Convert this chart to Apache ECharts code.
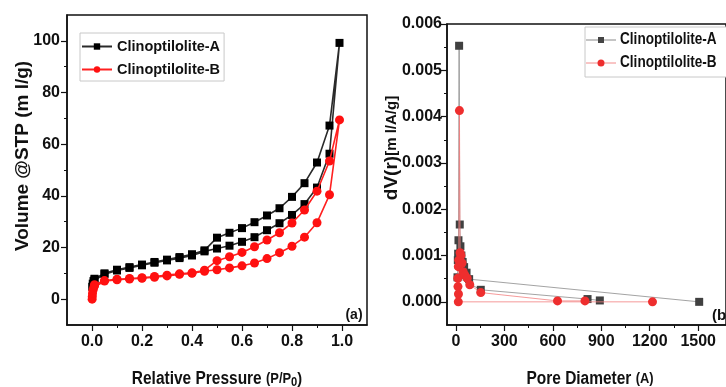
<!DOCTYPE html>
<html>
<head>
<meta charset="utf-8">
<script src="https://cdn.jsdelivr.net/npm/echarts@6/dist/echarts.min.js"></script>
<style>
  html, body { margin: 0; padding: 0; background: #fff; }
  #chart { width: 726px; height: 387px; }
</style>
</head>
<body>
<div id="chart"></div>
<script>
// ---- (a) N2 adsorption / desorption isotherms: [P/P0, volume ml/g] ----
const isoA_ads = [[0.001,4.8],[0.003,6.0],[0.006,7.0],[0.01,7.6],[0.05,9.7],[0.1,11.1],[0.15,12.1],[0.2,13.1],[0.25,14.1],[0.3,15.0],[0.35,15.9],[0.4,16.9],[0.45,18.5],[0.5,19.6],[0.55,20.7],[0.6,22.2],[0.65,24.0],[0.7,26.7],[0.75,29.4],[0.8,32.6],[0.85,36.8],[0.9,43.2],[0.95,56.3],[0.99,99.2]];
const isoA_des = [[0.95,67.2],[0.9,52.9],[0.85,44.9],[0.8,39.6],[0.75,35.2],[0.7,32.4],[0.65,29.8],[0.6,27.5],[0.55,25.7],[0.5,23.8],[0.45,18.9],[0.4,17.4],[0.35,16.3],[0.3,15.3],[0.25,14.4],[0.2,13.4],[0.15,12.4],[0.1,11.4],[0.05,10.0],[0.01,7.9]];
const isoB_ads = [[0.0005,0.0],[0.001,1.0],[0.002,2.2],[0.004,3.5],[0.007,4.5],[0.01,5.2],[0.05,7.0],[0.1,7.5],[0.15,7.8],[0.2,8.1],[0.25,8.5],[0.3,9.0],[0.35,9.6],[0.4,10.0],[0.45,10.8],[0.5,11.4],[0.55,12.1],[0.6,12.9],[0.65,14.0],[0.7,15.7],[0.75,18.0],[0.8,20.5],[0.85,24.0],[0.9,29.6],[0.95,40.4],[0.99,69.4]];
const isoB_des = [[0.95,53.5],[0.9,41.8],[0.85,34.5],[0.8,29.5],[0.75,25.7],[0.7,22.9],[0.65,20.3],[0.6,18.1],[0.55,16.4],[0.5,14.9],[0.45,11.2],[0.4,10.2],[0.35,9.8],[0.3,9.3],[0.25,8.8],[0.2,8.3],[0.15,8.0],[0.1,7.7],[0.05,7.2],[0.01,5.6]];

// ---- (b) pore size distribution: [pore diameter A, dV(r) ml/A/g] ----
const psdA = [[1506,0.0],[82,0.00049],[66,0.00063],[51,0.00075],[42,0.00086],[34,0.00100],[28,0.00120],[24,0.00167],[20,0.00553],[16,0.00133],[14,0.00104],[12,0.00090],[10,0.00053],[154,0.00026],[815,0.00006],[891,0.00003]];
const psdB = [[1217,0.0],[15,0.0],[16,0.00017],[13,0.00033],[12,0.00051],[15,0.00076],[18,0.00090],[22,0.00413],[26,0.00106],[31,0.00100],[38,0.00084],[45,0.00065],[55,0.00058],[70,0.00051],[86,0.00037],[154,0.00020],[629,0.00002],[799,0.00002]];

// ---- tick positions ----
const ticksXa = [0, 0.2, 0.4, 0.6, 0.8, 1.0];
const minorXa = [0.1, 0.3, 0.5, 0.7, 0.9];
const ticksYa = [0, 20, 40, 60, 80, 100];
const minorYa = [10, 30, 50, 70, 90];
const ticksXb = [0, 300, 600, 900, 1200, 1500];
const minorXb = [150, 450, 750, 1050, 1350];
const ticksYb = [0, 0.001, 0.002, 0.003, 0.004, 0.005, 0.006];
const minorYb = [0.0005, 0.0015, 0.0025, 0.0035, 0.0045, 0.0055];

const nameA = 'Clinoptilolite-A';
const nameB = 'Clinoptilolite-B';

const FONT = '"Liberation Sans", Arial, sans-serif';
const BLACK = '#111';
const NARROW = 0.86;   // horizontal squeeze for the condensed title lettering

function majorAxis(grid, min, max, ticks, fmt, pos, margin) {
  return {
    type: 'value', gridIndex: grid, min: min, max: max, position: pos,
    axisLine: { show: true, onZero: false, lineStyle: { color: BLACK, width: 1.5 } },
    axisTick: { show: true, inside: false, length: 6, customValues: ticks, lineStyle: { color: BLACK, width: 1.2 } },
    axisLabel: { show: true, customValues: ticks, formatter: fmt, color: BLACK, fontFamily: FONT, fontWeight: 'bold', fontSize: 16, margin: margin },
    splitLine: { show: false }
  };
}
function minorAxis(grid, min, max, ticks, pos) {
  return {
    type: 'value', gridIndex: grid, min: min, max: max, position: pos,
    axisLine: { show: false, onZero: false },
    axisTick: { show: true, inside: false, length: 3, customValues: ticks, lineStyle: { color: BLACK, width: 1 } },
    axisLabel: { show: false },
    splitLine: { show: false }
  };
}

const chart = echarts.init(document.getElementById('chart'), null, { renderer: 'canvas' });

chart.setOption({
  animation: false,
  backgroundColor: '#fff',
  grid: [
    { left: 67, top: 15, width: 300, height: 310, show: true, borderColor: BLACK, borderWidth: 1.5 },
    { left: 447, top: 24, width: 281, height: 301, show: true, borderColor: BLACK, borderWidth: 1.5 }
  ],
  xAxis: [
    majorAxis(0, -0.1, 1.1, ticksXa, v => v.toFixed(1), 'bottom', 9),
    minorAxis(0, -0.1, 1.1, minorXa, 'bottom'),
    majorAxis(1, -55, 1672, ticksXb, v => String(Math.round(v)), 'bottom', 9),
    minorAxis(1, -55, 1672, minorXb, 'bottom')
  ],
  yAxis: [
    majorAxis(0, -10, 110, ticksYa, v => String(Math.round(v)), 'left', 7),
    minorAxis(0, -10, 110, minorYa, 'left'),
    majorAxis(1, -0.0005, 0.006, ticksYb, v => v.toFixed(3), 'left', 5),
    minorAxis(1, -0.0005, 0.006, minorYb, 'left')
  ],
  legend: [
    {
      orient: 'vertical', left: 80, top: 33,
      data: [nameA, nameB].map(n => ({ name: n })),
      itemWidth: 30, itemHeight: 8, itemGap: 8,
      padding: [6, 4, 4, 1],
      borderColor: '#c8c8c8', borderWidth: 1,
      textStyle: { color: BLACK, fontFamily: FONT, fontWeight: 'bold', fontSize: 14.5 }
    }
  ],
  graphic: [
    {
      type: 'text', x: 23, y: 156, rotation: Math.PI / 2,
      style: { text: 'Volume @STP (m l/g)', fill: BLACK, font: 'bold 19px ' + FONT, align: 'center', verticalAlign: 'middle' }
    },
    {
      type: 'text', x: 217, y: 379, scaleX: NARROW,
      style: {
        text: '{a|Relative Pressure }{b|(P/P}{c|0}{d|)}', align: 'center', verticalAlign: 'middle',
        rich: {
          a: { fill: BLACK, font: 'bold 18px ' + FONT },
          b: { fill: BLACK, font: 'bold 15px ' + FONT },
          c: { fill: BLACK, font: 'bold 13px ' + FONT, padding: [6, 0, 0, 0] },
          d: { fill: BLACK, font: 'bold 17px ' + FONT }
        }
      }
    },
    {
      type: 'text', x: 392, y: 148, rotation: Math.PI / 2,
      style: {
        text: '{a|dV(r)}{b|[m l/A/g]}', align: 'center', verticalAlign: 'middle',
        rich: {
          a: { fill: BLACK, font: 'bold 19px ' + FONT },
          b: { fill: BLACK, font: 'bold 15px ' + FONT }
        }
      }
    },
    {
      type: 'text', x: 590, y: 379, scaleX: NARROW,
      style: {
        text: '{a|Pore Diameter }{b|(A)}', align: 'center', verticalAlign: 'middle',
        rich: {
          a: { fill: BLACK, font: 'bold 18px ' + FONT },
          b: { fill: BLACK, font: 'bold 15px ' + FONT }
        }
      }
    },
    {
      type: 'text', x: 354, y: 315,
      style: { text: '(a)', fill: BLACK, font: 'bold 14px ' + FONT, align: 'center', verticalAlign: 'middle' }
    },
    {
      type: 'text', x: 712, y: 316,
      style: { text: '(b)', fill: BLACK, font: 'bold 15px ' + FONT, align: 'left', verticalAlign: 'middle' }
    },
    // legend of panel (b)
    {
      type: 'group', x: 585, y: 27,
      children: [
        { type: 'rect', shape: { x: 0, y: 0, width: 142, height: 50 }, style: { fill: '#fff', stroke: '#c8c8c8', lineWidth: 1 } },
        { type: 'line', shape: { x1: 1, y1: 13, x2: 31, y2: 13 }, style: { stroke: '#8a8a8a', lineWidth: 1 } },
        { type: 'rect', shape: { x: 13, y: 10, width: 6, height: 6 }, style: { fill: '#444' } },
        { type: 'text', x: 35, y: 13, scaleX: 0.85, style: { text: nameA, fill: BLACK, font: 'bold 16px ' + FONT, verticalAlign: 'middle' } },
        { type: 'line', shape: { x1: 1, y1: 36, x2: 31, y2: 36 }, style: { stroke: '#f28a8a', lineWidth: 1 } },
        { type: 'circle', shape: { cx: 16, cy: 36, r: 3.5 }, style: { fill: '#ee2e2e' } },
        { type: 'text', x: 35, y: 36, scaleX: 0.85, style: { text: nameB, fill: BLACK, font: 'bold 16px ' + FONT, verticalAlign: 'middle' } }
      ]
    }
  ],
  series: [
    {
      name: nameA, type: 'line', xAxisIndex: 0, yAxisIndex: 0,
      data: isoA_ads.concat(isoA_des),
      symbol: 'rect', symbolSize: 8,
      itemStyle: { color: '#000' },
      lineStyle: { color: '#2a2a2a', width: 1.6 },
      z: 3
    },
    {
      name: nameB, type: 'line', xAxisIndex: 0, yAxisIndex: 0,
      data: isoB_ads.concat(isoB_des),
      symbol: 'circle', symbolSize: 9,
      itemStyle: { color: '#ff1010' },
      lineStyle: { color: '#ff2020', width: 1.6 },
      z: 4
    },
    {
      name: 'psdA', type: 'line', xAxisIndex: 2, yAxisIndex: 2,
      data: psdA,
      symbol: 'rect', symbolSize: 8,
      itemStyle: { color: '#404040' },
      lineStyle: { color: '#8c8c8c', width: 0.8 },
      z: 3
    },
    {
      name: 'psdB', type: 'line', xAxisIndex: 2, yAxisIndex: 2,
      data: psdB,
      symbol: 'circle', symbolSize: 9,
      itemStyle: { color: '#ee2e2e' },
      lineStyle: { color: '#f28080', width: 0.8 },
      z: 4
    }
  ]
});
</script>
</body>
</html>
